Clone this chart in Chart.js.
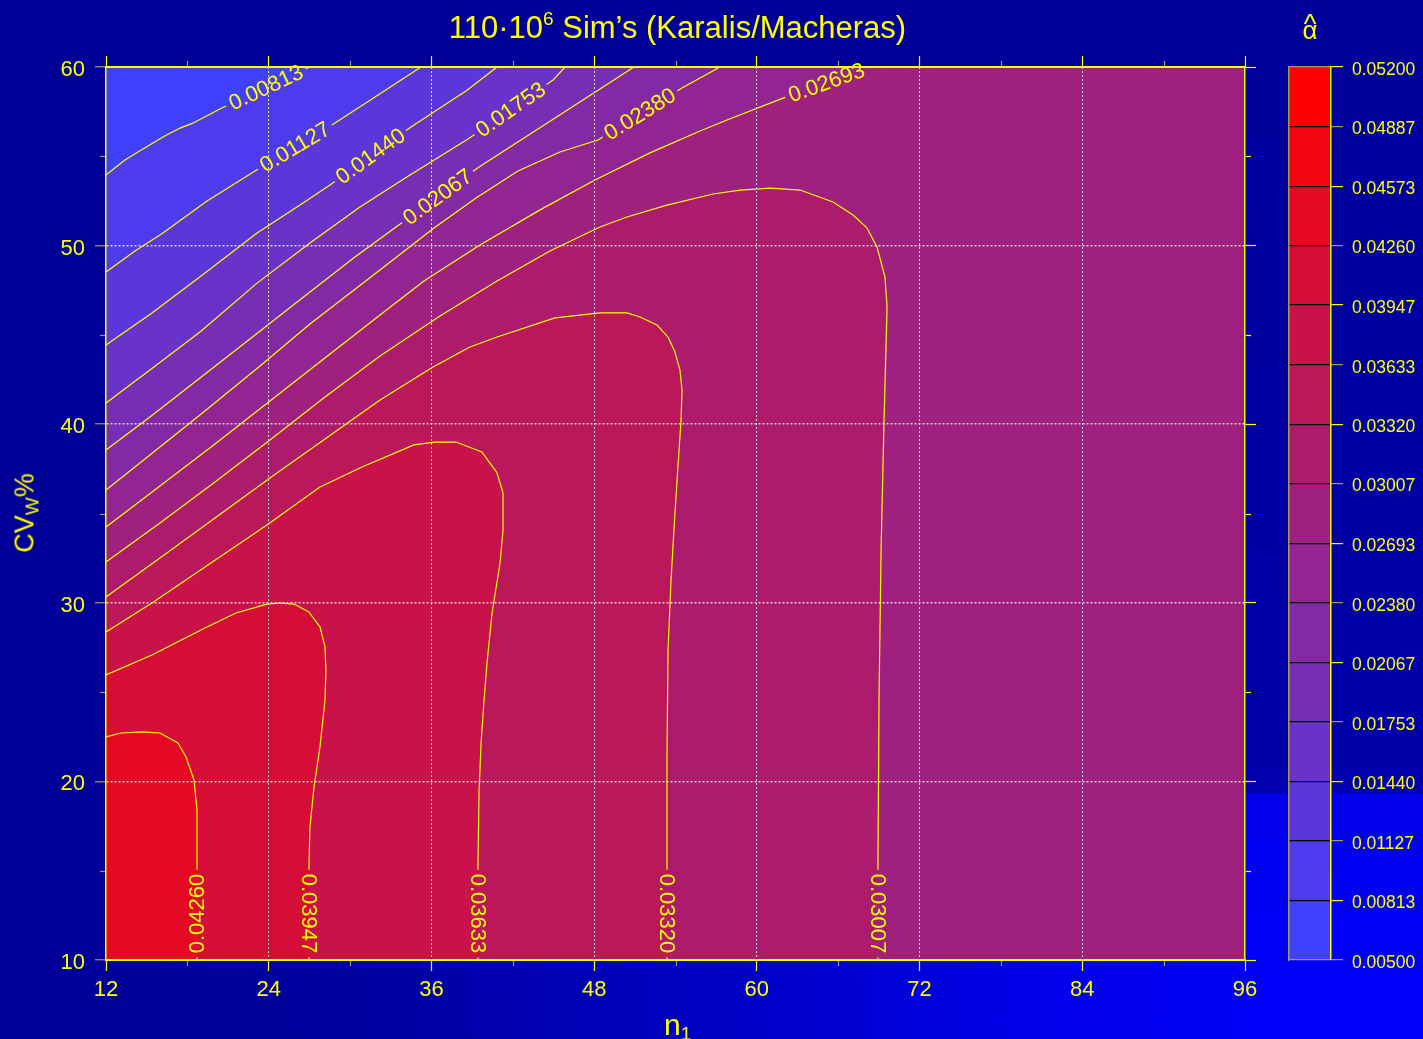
<!DOCTYPE html>
<html>
<head>
<meta charset="utf-8">
<title>110·10^6 Sim’s (Karalis/Macheras)</title>
<script src="https://cdn.jsdelivr.net/npm/chart.js@4.4.1/dist/chart.umd.min.js"></script>
<style>
  html, body { margin: 0; padding: 0; }
  body {
    width: 1423px; height: 1039px; overflow: hidden; position: relative;
    background: #000096;
    font-family: "Liberation Sans", Arial, sans-serif;
  }
  .bg { position: absolute; }
  .bg-bottom { left: 0; top: 960px; width: 1423px; height: 79px;
    background: linear-gradient(to right, #000096 0%, #00009c 22%, #0000c0 48%, #0000e8 72%, #0000ff 100%); }
  .bg-side { left: 1245px; top: 0; width: 178px; height: 793px;
    background: linear-gradient(to bottom, #000098 0%, #0000ac 100%); }
  .bg-corner { left: 1245px; top: 793px; width: 178px; height: 246px;
    background: linear-gradient(to bottom, #0000ec 0%, #0000ff 100%); }
  canvas { position: absolute; top: 0; }
  #plot { left: 0; }
  #scaleBar { left: 1250px; }
  .txt { position: absolute; color: #ffff00; white-space: nowrap; }
  #title { left: 0; width: 1355px; text-align: center; top: 12px; font-size: 31px; line-height: 31px; }
  #title .sup { font-size: 19px; position: relative; top: -13px; }
  #alpha { left: 1280px; width: 60px; text-align: center; top: 17px; font-size: 26px; line-height: 26px; }
  #alpha .hat { position: absolute; left: 0; width: 60px; text-align: center; top: -7px; font-size: 27px; line-height: 28px; }
  #ytitle { left: 26px; top: 513px; font-size: 27px; line-height: 27px; transform: translate(-50%, -50%) rotate(-90deg); }
  #xtitle { left: 664px; top: 1010px; font-size: 30px; line-height: 30px; }
  .sub { font-size: 19px; position: relative; top: 5px; }
</style>
</head>
<body>
<div class="bg bg-bottom"></div>
<div class="bg bg-side"></div>
<div class="bg bg-corner"></div>
<canvas id="plot" width="1423" height="1039"></canvas>
<canvas id="scaleBar" width="173" height="1039"></canvas>
<div class="txt" id="title">110·10<span class="sup">6</span> Sim’s (Karalis/Macheras)</div>
<div class="txt" id="alpha"><span class="hat">^</span>α</div>
<div class="txt" id="ytitle">CV<span class="sub">W</span>%</div>
<div class="txt" id="xtitle">n<span class="sub">1</span></div>

<script>
// ---- data ----
const levels = [0.00500, 0.00813, 0.01127, 0.01440, 0.01753, 0.02067, 0.02380, 0.02693,
                0.03007, 0.03320, 0.03633, 0.03947, 0.04260, 0.04573, 0.04887, 0.05200];
const levelText = ['0.00500', '0.00813', '0.01127', '0.01440', '0.01753', '0.02067', '0.02380', '0.02693',
                   '0.03007', '0.03320', '0.03633', '0.03947', '0.04260', '0.04573', '0.04887', '0.05200'];
const xTicks = [12, 24, 36, 48, 60, 72, 84, 96];
const yTicks = [10, 20, 30, 40, 50, 60];
const xMinor = [18, 30, 42, 54, 66, 78, 90];
const yMinor = [15, 25, 35, 45, 55];

// contour lines as [n1, CVw%] pairs
const c00813 = [[12, 53.95], [13.40, 54.79], [13.99, 55.07], [16.20, 56.08], [17.46, 56.58], [18.42, 56.86],
                [20.55, 57.70], [27.04, 60]];
const c01127 = [[12, 48.52], [14.14, 49.70], [16.20, 50.70], [19.45, 52.50], [22.99, 54.18], [28.89, 56.86],
                [31.84, 58.32], [35.23, 60]];
const c01440 = [[12, 44.44], [15.39, 46.23], [19.30, 48.47], [23.14, 50.71], [26.31, 52.27], [28.52, 53.39],
                [34.49, 56.64], [36.63, 57.70], [38.55, 58.66], [40.84, 60]];
const c01753 = [[12, 41.19], [15.24, 43.03], [18.93, 45.16], [23.14, 47.90], [27.04, 50.15], [30.73, 52.16],
                [34.42, 53.95], [38.70, 55.97], [44.97, 59.27], [45.85, 60]];
const c02067 = [[12, 38.56], [15.24, 40.40], [18.93, 42.59], [22.99, 44.99], [27.04, 47.40], [30.36, 49.36],
                [33.39, 51.04], [39.51, 54.40], [44.89, 57.03], [50.94, 60]];
const c02380 = [[12, 36.32], [15.24, 38.28], [18.93, 40.52], [23.36, 43.26], [27.04, 45.61], [31.25, 48.07],
                [36.19, 50.99], [39.29, 52.67], [42.38, 54.18], [45.48, 55.24], [48.28, 55.91], [54.48, 58.82],
                [57.28, 60]];
const c02693 = [[12, 34.24], [15.98, 36.54], [20.04, 38.89], [24.09, 41.30], [28.52, 43.93], [32.21, 46.11],
                [35.45, 48.02], [39.58, 50.03], [44.01, 52.00], [48.06, 53.67], [52.12, 55.19], [55.81, 56.42],
                [57.80, 57.03], [61.93, 58.26], [68.34, 60]];
const c03007 = [[12, 32.28], [15.98, 34.47], [20.04, 36.76], [24.09, 39.12], [28.15, 41.52], [32.21, 43.82],
                [36.63, 46.06], [40.84, 48.02], [44.74, 49.70], [48.43, 51.04], [50.42, 51.60], [53.37, 52.27],
                [56.77, 52.89], [58.76, 53.11], [60.97, 53.22], [63.18, 53.11], [65.62, 52.44], [67.09, 51.71],
                [68.12, 50.99], [68.86, 49.92], [69.45, 48.24], [69.60, 46.56], [69.52, 44.15], [69.38, 40.24],
                [69.16, 32.96], [69.01, 24.56], [68.93, 15.21], [68.93, 10]];
const c03320 = [[12, 30.33], [15.98, 32.51], [20.04, 34.75], [24.09, 36.99], [28.15, 39.17], [32.21, 41.35],
                [36.12, 43.20], [38.84, 44.32], [40.84, 44.88], [45.11, 45.95], [48.43, 46.23], [50.42, 46.23],
                [51.38, 46.00], [52.64, 45.55], [53.45, 44.88], [53.96, 44.04], [54.33, 43.03], [54.48, 41.91],
                [54.41, 40.24], [54.18, 37.60], [53.96, 35.03], [53.67, 31.28], [53.45, 27.36], [53.37, 21.20],
                [53.37, 15.21], [53.37, 10]];
const c03633 = [[12, 28.37], [15.39, 29.99], [19.30, 32.00], [23.87, 34.36], [27.78, 36.48], [30.88, 37.60],
                [34.71, 38.84], [36.26, 39.00], [37.81, 39.00], [39.73, 38.44], [40.84, 37.27], [41.28, 36.15],
                [41.28, 34.08], [41.06, 32.23], [40.47, 29.43], [40.10, 26.63], [39.88, 24.56], [39.66, 22.15],
                [39.51, 19.35], [39.43, 15.21], [39.43, 10]];
const c03947 = [[12, 25.96], [15.39, 27.08], [19.30, 28.59], [21.59, 29.43], [23.87, 29.93], [24.83, 29.99],
                [25.86, 29.93], [26.97, 29.48], [27.78, 28.65], [28.15, 27.53], [28.22, 26.24], [28.15, 24.56],
                [27.78, 21.93], [27.34, 19.69], [27.04, 17.45], [26.97, 15.21], [26.97, 10]];
// this one runs from the bottom edge up, so its label reads upward
const c04260 = [[18.71, 10], [18.71, 15.21], [18.71, 18.40], [18.49, 20.08], [17.90, 21.37], [17.31, 22.15],
                [15.98, 22.71], [14.65, 22.77], [13.11, 22.71], [12, 22.49]];

const contours = [c00813, c01127, c01440, c01753, c02067, c02380, c02693,
                  c03007, c03320, c03633, c03947, c04260];
const contourText = levelText.slice(1, 13);
// segment of each contour that carries its label (-1 = last segment)
const labelSeg = [6, 4, 5, 7, 6, 10, 13, -1, -1, -1, -1, 0];

// ---- style ----
const YELLOW = '#ffff00';
const OLIVE = '#a39c58';
const GRID = 'rgba(238,238,238,0.85)';
const X_MIN = 12, X_MAX = 96, Y_MIN = 10, Y_MAX = 60;

function bandColor(i) {
    const t = i / (levels.length - 2);
    const r = Math.round(64 + 191 * t), g = Math.round(64 * (1 - t)), b = Math.round(255 * (1 - t));
    return `rgb(${r},${g},${b})`;
}
const toXY = (pts) => pts.map(([x, y]) => ({ x, y }));
// close a contour round the high-value (lower left) side of the plot
function closeHigh(pts) {
    const last = pts[pts.length - 1];
    const tail = last[1] >= Y_MAX ? [[X_MAX, Y_MAX], [X_MAX, Y_MIN], [X_MIN, Y_MIN]] : [[X_MIN, Y_MIN]];
    return pts.concat(tail);
}

Chart.defaults.font.family = '"Liberation Sans", Arial, sans-serif';
Chart.defaults.color = YELLOW;

// ---- plugins ----
const plotBg = {
    id: 'plotBg',
    beforeDraw(chart) {
        const { ctx, chartArea: a } = chart;
        ctx.save();
        ctx.fillStyle = bandColor(0);
        ctx.fillRect(a.left, a.top, a.right - a.left, a.bottom - a.top);
        ctx.restore();
    }
};

const LABEL_FONT = '22px "Liberation Sans", Arial, sans-serif';
function labelGeom(chart, k) {
    const xs = chart.scales.x, ys = chart.scales.y;
    const pts = contours[k];
    let s = labelSeg[k];
    if (s < 0) s = pts.length - 2;
    const x0 = xs.getPixelForValue(pts[s][0]), y0 = ys.getPixelForValue(pts[s][1]);
    const x1 = xs.getPixelForValue(pts[s + 1][0]), y1 = ys.getPixelForValue(pts[s + 1][1]);
    return { cx: (x0 + x1) / 2, cy: (y0 + y1) / 2, ang: Math.atan2(y1 - y0, x1 - x0) };
}

const contourLabels = {
    id: 'contourLabels',
    beforeDatasetDraw(chart, args) {
        const ds = chart.data.datasets[args.index];
        if (ds.contourIndex === undefined) return;
        const ctx = chart.ctx;
        ctx.save();
        ctx.font = LABEL_FONT;
        ctx.beginPath();
        ctx.rect(0, 0, chart.width, chart.height);
        contours.forEach((_, k) => {
            const g = labelGeom(chart, k);
            const hw = ctx.measureText(contourText[k]).width / 2 + 4, hh = 10;
            const c = Math.cos(g.ang), s = Math.sin(g.ang);
            const P = (u, v) => [g.cx + u * c - v * s, g.cy + u * s + v * c];
            const pts = [P(-hw, -hh), P(hw, -hh), P(hw, hh), P(-hw, hh)];
            ctx.moveTo(pts[0][0], pts[0][1]);
            for (let i = 1; i < 4; i++) ctx.lineTo(pts[i][0], pts[i][1]);
            ctx.closePath();
        });
        ctx.clip('evenodd');
    },
    afterDatasetDraw(chart, args) {
        if (chart.data.datasets[args.index].contourIndex !== undefined) chart.ctx.restore();
    },
    afterDraw(chart) {
        const ctx = chart.ctx;
        ctx.save();
        ctx.font = LABEL_FONT;
        ctx.fillStyle = YELLOW;
        ctx.textAlign = 'center';
        ctx.textBaseline = 'middle';
        contours.forEach((_, k) => {
            const g = labelGeom(chart, k);
            ctx.save();
            ctx.translate(g.cx, g.cy);
            ctx.rotate(g.ang);
            ctx.fillText(contourText[k], 0, 1);
            ctx.restore();
        });
        ctx.restore();
    }
};

const minorTicks = {
    id: 'minorTicks',
    afterDraw(chart) {
        const { ctx, chartArea: a, scales: { x, y } } = chart;
        ctx.save();
        ctx.lineWidth = 1.2;
        const seg = (x1, y1, x2, y2, col) => {
            ctx.strokeStyle = col;
            ctx.beginPath(); ctx.moveTo(x1, y1); ctx.lineTo(x2, y2); ctx.stroke();
        };
        xMinor.forEach(v => {
            const px = Math.round(x.getPixelForValue(v)) + 0.5;
            seg(px, a.bottom + 1, px, a.bottom + 6, OLIVE);
            seg(px, a.top - 1, px, a.top - 6, OLIVE);
        });
        yMinor.forEach(v => {
            const py = Math.round(y.getPixelForValue(v)) + 0.5;
            seg(a.left - 1, py, a.left - 6, py, OLIVE);
            seg(a.right + 1, py, a.right + 6, py, YELLOW);
        });
        ctx.restore();
    }
};

// ---- main plot ----
const isEdgeX = (c) => c.tick && (c.tick.value === X_MIN || c.tick.value === X_MAX);
const isEdgeY = (c) => c.tick && (c.tick.value === Y_MIN || c.tick.value === Y_MAX);

const fillSets = contours.map((pts, k) => ({
    data: toXY(closeHigh(pts)),
    backgroundColor: bandColor(k + 1),
    borderColor: 'rgba(0,0,0,0)',
    borderWidth: 0,
    pointRadius: 0,
    fill: 'shape',
    order: 100 - k
}));
const lineSets = contours.map((pts, k) => ({
    data: toXY(pts),
    borderColor: YELLOW,
    borderWidth: 1.2,
    pointRadius: 0,
    fill: false,
    order: 0,
    contourIndex: k
}));

new Chart(document.getElementById('plot'), {
    type: 'line',
    data: { datasets: fillSets.concat(lineSets) },
    options: {
        responsive: false,
        animation: false,
        devicePixelRatio: 1,
        events: [],
        layout: { padding: 0 },
        elements: { line: { tension: 0, borderJoinStyle: 'round' }, point: { radius: 0 } },
        plugins: {
            legend: { display: false },
            tooltip: { enabled: false },
            filler: { drawTime: 'beforeDatasetsDraw', propagate: false }
        },
        scales: {
            x: {
                type: 'linear', position: 'bottom', min: X_MIN, max: X_MAX,
                afterBuildTicks: (s) => { s.ticks = xTicks.map(v => ({ value: v })); },
                afterFit: (s) => { s.height = 79; },
                ticks: { color: YELLOW, font: { size: 22 }, padding: 6, maxRotation: 0, autoSkip: false },
                grid: { z: 1, lineWidth: 1, tickLength: 11, tickWidth: 1.2, tickColor: YELLOW,
                        color: (c) => isEdgeX(c) ? 'rgba(0,0,0,0)' : GRID },
                border: { color: YELLOW, width: 2, z: 2, dash: [2, 2] }
            },
            xTop: {
                type: 'linear', position: 'top', min: X_MIN, max: X_MAX,
                afterBuildTicks: (s) => { s.ticks = xTicks.map(v => ({ value: v })); },
                afterFit: (s) => { s.height = 67; },
                ticks: { display: false },
                grid: { z: 1, drawOnChartArea: false, tickLength: 11, tickWidth: 1.2, tickColor: YELLOW },
                border: { color: YELLOW, width: 2, z: 2 }
            },
            y: {
                type: 'linear', position: 'left', min: Y_MIN, max: Y_MAX,
                afterBuildTicks: (s) => { s.ticks = yTicks.map(v => ({ value: v })); },
                afterFit: (s) => { s.width = 106; },
                ticks: { color: YELLOW, font: { size: 22 }, padding: 10, labelOffset: 3, autoSkip: false },
                grid: { z: 1, lineWidth: 1.5, tickLength: 11, tickWidth: 1.2, tickColor: OLIVE,
                        color: (c) => isEdgeY(c) ? 'rgba(0,0,0,0)' : GRID },
                border: { color: YELLOW, width: 1.5, z: 2, dash: [2, 2] }
            },
            yRight: {
                type: 'linear', position: 'right', min: Y_MIN, max: Y_MAX,
                afterBuildTicks: (s) => { s.ticks = yTicks.map(v => ({ value: v })); },
                afterFit: (s) => { s.width = 178; },
                ticks: { display: false },
                grid: { z: 1, drawOnChartArea: false, tickLength: 11, tickWidth: 1.2, tickColor: YELLOW },
                border: { color: YELLOW, width: 1.5, z: 2 }
            }
        }
    },
    plugins: [plotBg, contourLabels, minorTicks]
});

// ---- colour key ----
const bandSets = levels.slice(0, -1).map((lo, i) => ({
    data: [[lo, levels[i + 1]]],
    backgroundColor: bandColor(i),
    borderWidth: 0,
    grouped: false,
    barPercentage: 1,
    categoryPercentage: 1
}));
const lastLevel = levels.length - 1;

new Chart(document.getElementById('scaleBar'), {
    type: 'bar',
    data: { labels: [''], datasets: bandSets },
    options: {
        responsive: false,
        animation: false,
        devicePixelRatio: 1,
        events: [],
        layout: { padding: { left: 39, top: 67, bottom: 79, right: 0 } },
        plugins: { legend: { display: false }, tooltip: { enabled: false } },
        scales: {
            x: { display: false },
            y: {
                position: 'right', min: levels[0], max: levels[lastLevel],
                afterBuildTicks: (s) => { s.ticks = levels.map(v => ({ value: v })); },
                afterFit: (s) => { s.width = 92; },
                ticks: { color: YELLOW, font: { size: 17.5 }, padding: 9, labelOffset: 3, autoSkip: false,
                         callback: (v, i) => levelText[i] },
                grid: { z: 1, lineWidth: 1.2, tickLength: 12, tickWidth: 1.2,
                        color: (c) => (c.index === 0 || c.index === lastLevel) ? OLIVE : '#000000',
                        tickColor: (c) => c.index % 2 ? YELLOW : OLIVE },
                border: { color: YELLOW, width: 1.5, z: 2 }
            },
            yLeft: {
                position: 'left', min: levels[0], max: levels[lastLevel],
                afterFit: (s) => { s.width = 0; },
                ticks: { display: false },
                grid: { display: false },
                border: { color: OLIVE, width: 1.5, z: 2 }
            }
        }
    }
});
</script>
</body>
</html>
